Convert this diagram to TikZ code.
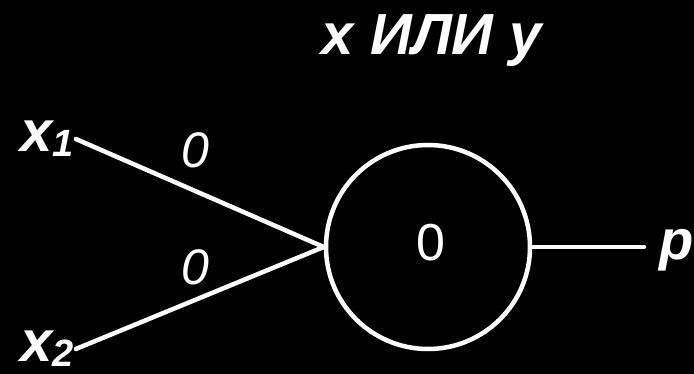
\documentclass[tikz,border=0pt]{standalone}
\usepackage{fontspec}
\setmainfont{Liberation Sans}
\usepackage{tikz}
\newcommand\inp[1]{\textbf{\textit{x\raisebox{-0.08em}{\fontsize{38}{38}\selectfont #1}}}}

\begin{document}
\begin{tikzpicture}[x=1pt, y=-1pt, line width=4.5pt,
                    every node/.style={text=white, inner sep=0pt},
                    wire/.style={draw=white, line cap=round}]
  \fill[black] (0,0) rectangle (694,374);
  \useasboundingbox (0,0) rectangle (694,374);
  \node[anchor=base] (title) at (432,55)
    {\fontsize{58}{58}\selectfont\bfseries\itshape x ИЛИ y};
  \node[anchor=base west, font=\fontsize{58}{58}\selectfont] (x1) at (18,152) {\inp{1}};
  \node[anchor=base west, font=\fontsize{58}{58}\selectfont] (x2) at (18,362) {\inp{2}};
  \node[draw=white, circle, minimum size=204pt, line width=4.5pt] (n) at (428,247) {};
  \node (th) at (431,243) {\fontsize{52}{52}\selectfont 0};
  \node[anchor=base] (w1) at (195,168) {\fontsize{50}{50}\selectfont\itshape 0};
  \node[anchor=base] (w2) at (195,285) {\fontsize{50}{50}\selectfont\itshape 0};
  \node[anchor=base west] (p) at (657,260) {\fontsize{56}{56}\selectfont\bfseries\itshape p};
  \draw[wire] (x1.east) -- (n.west);
  \draw[wire] (x2.east) -- (n.west);
  \draw[wire, shorten >=13pt] (n.east) -- (p.west |- n.east);
\end{tikzpicture}
\end{document}
